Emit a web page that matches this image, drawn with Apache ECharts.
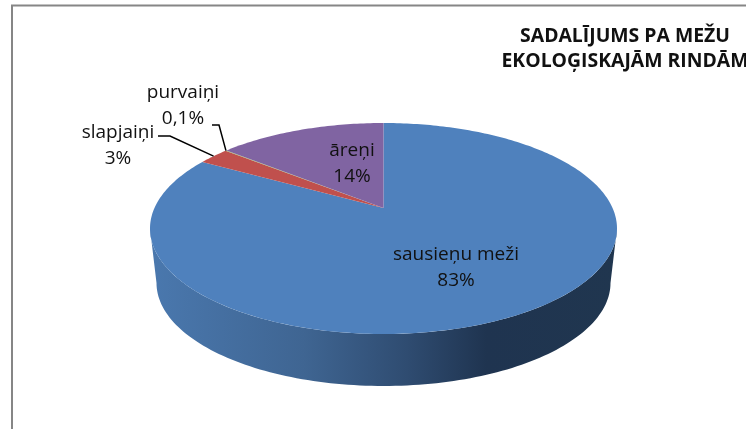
<!DOCTYPE html>
<html>
<head>
<meta charset="utf-8">
<style>
  html, body { margin: 0; padding: 0; background: #fff; }
  #chart-container { width: 746px; height: 429px; }
</style>
<script src="https://cdn.jsdelivr.net/npm/echarts@6/dist/echarts.min.js"></script>
</head>
<body>
<div id="chart-container"></div>
<script>
var categories = ['sausieņu meži', 'slapjaiņi', 'purvaiņi', 'āreņi'];
var values = [83.3, 2.6, 0.1, 14];
var valueLabels = ['83%', '3%', '0,1%', '14%'];
var sliceColors = ['#4f81bd', '#c0504d', '#9bbb59', '#8064a2'];

// top face of the tilted pie: an ellipse, with the pie's centre pushed back by perspective
var top3d = { cx: 383.5, cy: 228.5, rx: 233.5, ry: 105.5, shift: -0.194 };
var bottom3d = { cx: 383.5, cy: 283, rx: 227, ry: 103 };

// where each label sits, and the leader line (if any) that runs to the slice
var labelPos = [[456, 268], [118, 146], [183, 105.5], [352, 164]];
var leaders = [null, [[158, 136], [170, 136]], [[212, 125], [219, 125]], null];
var fontFamily = '"Open Sans", "Noto Sans", sans-serif';

var total = values.reduce(function (a, b) { return a + b; }, 0);

function rimPoint(deg) {
  var t = deg * Math.PI / 180;
  var u = Math.sin(t), v = -Math.cos(t);
  var c = top3d.shift;
  var d = 1 + c * v;
  return [
    top3d.cx + top3d.rx * u * Math.sqrt(1 - c * c) / d,
    top3d.cy + top3d.ry * (v + c) / d
  ];
}

function centerPoint() {
  return [top3d.cx, top3d.cy + top3d.ry * top3d.shift];
}

function wallPoints() {
  var pts = [], i, t;
  for (i = 0; i <= 120; i++) {
    t = Math.PI * i / 120;
    pts.push([top3d.cx + top3d.rx * Math.cos(t), top3d.cy + top3d.ry * Math.sin(t)]);
  }
  for (i = 120; i >= 0; i--) {
    t = Math.PI * i / 120;
    pts.push([bottom3d.cx + bottom3d.rx * Math.cos(t), bottom3d.cy + bottom3d.ry * Math.sin(t)]);
  }
  return pts;
}

function renderSlice(params, api) {
  var i = params.dataIndex;
  var before = 0;
  for (var k = 0; k < i; k++) before += values[k];
  var start = before / total * 360;
  var sweep = api.value(0) / total * 360;
  var steps = Math.max(2, Math.ceil(sweep));
  var pts = [centerPoint()];
  for (var s = 0; s <= steps; s++) pts.push(rimPoint(start + sweep * s / steps));

  var children = [];
  if (i === 0) {
    children.push({
      type: 'polygon',
      shape: { points: wallPoints() },
      style: {
        fill: new echarts.graphic.LinearGradient(0, 0, 1, 0, [
          { offset: 0, color: '#4a78ae' },
          { offset: 0.33, color: '#3f6592' },
          { offset: 0.55, color: '#2f4c71' },
          { offset: 0.72, color: '#1f3450' },
          { offset: 1, color: '#20364f' }
        ])
      }
    });
  }
  children.push({
    type: 'polygon',
    shape: { points: pts },
    style: { fill: sliceColors[i] }
  });
  if (leaders[i]) {
    var end = rimPoint(start + sweep / 2);
    children.push({
      type: 'polyline',
      shape: { points: leaders[i].concat([end]) },
      style: { fill: null, stroke: '#000', lineWidth: 1.5 },
      z2: 5
    });
  }
  children.push({
    type: 'text',
    x: labelPos[i][0],
    y: labelPos[i][1],
    style: {
      text: categories[i] + '\n' + valueLabels[i],
      fill: '#111',
      font: '19px ' + fontFamily,
      lineHeight: 26,
      align: 'center',
      verticalAlign: 'middle'
    },
    z2: 6
  });
  return { type: 'group', children: children };
}

var dom = document.getElementById('chart-container');
var myChart = echarts.init(dom, null, { renderer: 'canvas' });

var option = {
  animation: false,
  backgroundColor: '#fff',
  title: {
    text: 'SADALĪJUMS PA MEŽU\nEKOLOĢISKAJĀM RINDĀM',
    left: 620,
    top: 19,
    textAlign: 'center',
    textStyle: {
      fontFamily: fontFamily,
      fontSize: 19.4,
      fontWeight: 'bold',
      color: '#111',
      lineHeight: 25
    }
  },
  graphic: [{
    type: 'polyline',
    shape: { points: [[12, 429], [12, 5.5], [746, 5.5]] },
    style: { fill: null, stroke: '#868686', lineWidth: 2 },
    silent: true
  }],
  series: [{
    type: 'custom',
    coordinateSystem: 'none',
    renderItem: renderSlice,
    data: values.map(function (v, i) { return { name: categories[i], value: [v] }; })
  }]
};

myChart.setOption(option);
</script>
</body>
</html>
